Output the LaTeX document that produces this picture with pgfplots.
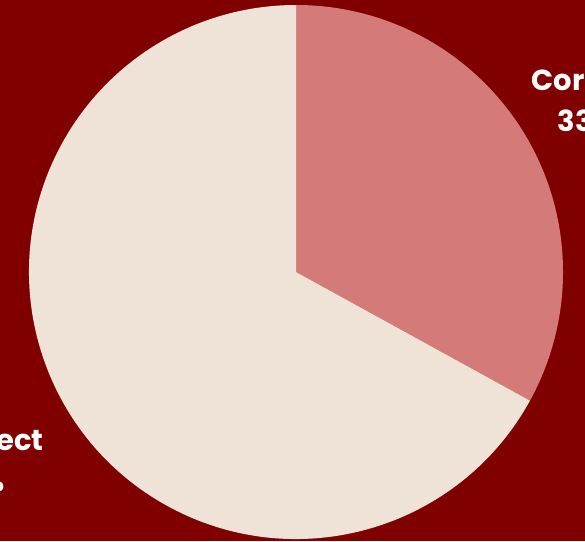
\documentclass[border=0pt]{standalone}
\usepackage{fontspec}
\setmainfont{Poppins}
\usepackage{pgfplots}
\pgfplotsset{compat=1.18}
\definecolor{bg}{HTML}{800000}
\definecolor{slicea}{HTML}{D47A78}
\definecolor{sliceb}{HTML}{EFE3D8}
\begin{document}
\begin{tikzpicture}
\useasboundingbox (0,0) rectangle (585pt,541pt);
\fill[bg] (0,0) rectangle (585pt,541pt);
\begin{axis}[
  at={(0,0)}, anchor=south west,
  scale only axis, width=585pt, height=541pt,
  xmin=0, xmax=585, ymin=0, ymax=541,
  hide axis, clip=true,
]
% data: Correct 33, Incorrect 67
\def\valA{33}
\def\valB{67}
\pgfmathsetmacro{\angA}{90-3.6*\valA}
\pgfmathsetmacro{\angB}{\angA-3.6*\valB}
\fill[slicea] (axis cs:296,269) -- ++(90:267pt) arc[start angle=90, end angle=\angA, radius=267pt] -- cycle;
\fill[sliceb] (axis cs:296,269) -- ++(\angA:267pt) arc[start angle=\angA, end angle=\angB, radius=267pt] -- cycle;
\node[text=white, font=\fontsize{29}{41}\selectfont\bfseries, align=center, anchor=west] at (axis cs:528,440) {Correct\\33\%};
\node[text=white, font=\fontsize{29}{41}\selectfont\bfseries, align=center, anchor=east] at (axis cs:47,80) {Incorrect\\67\%};
\end{axis}
\end{tikzpicture}
\end{document}
